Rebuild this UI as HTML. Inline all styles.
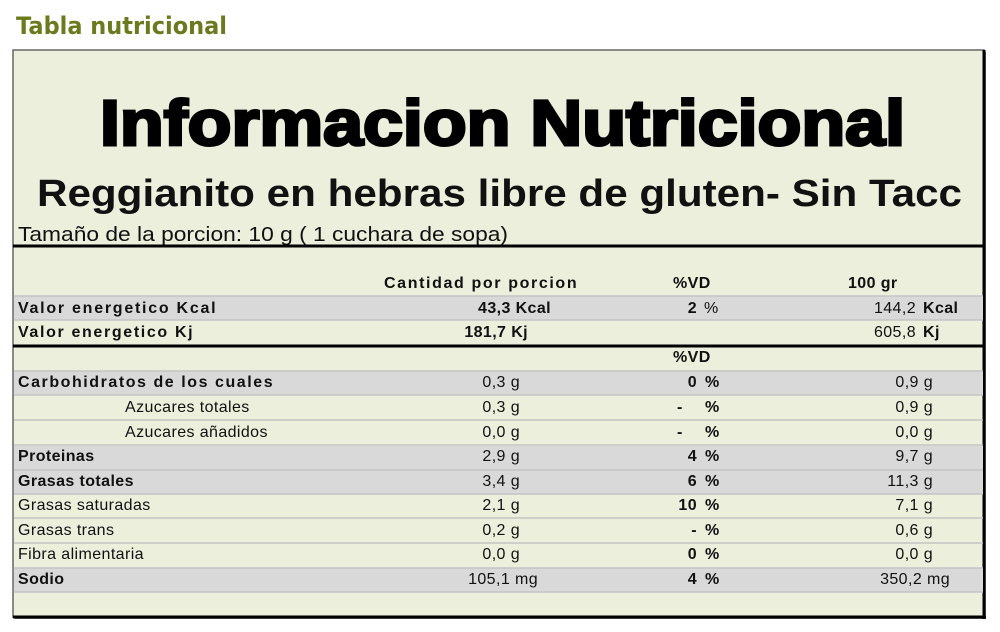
<!DOCTYPE html>
<html><head><meta charset="utf-8"><style>
html,body{margin:0;padding:0;background:#fff;}
svg{display:block;font-family:"Liberation Sans",Arial,sans-serif;}
.t{font-size:16px;letter-spacing:0.4px;fill:#111;}
.b{font-weight:bold;}
</style></head><body>
<svg width="1000" height="632" viewBox="0 0 1000 632">
<text x="16" y="34" font-size="24" font-weight="bold" fill="#6b7a1e" font-family="DejaVu Sans, Liberation Sans, sans-serif" textLength="211" lengthAdjust="spacingAndGlyphs">Tabla nutricional</text>
<rect x="15" y="52" width="971" height="567" fill="#777"/>
<rect x="13" y="50" width="971" height="567" fill="#ebefdc" stroke="#666" stroke-width="1.5"/>
<line x1="984" y1="50" x2="984" y2="619" stroke="#000" stroke-width="3"/>
<line x1="13" y1="617" x2="986" y2="617" stroke="#000" stroke-width="3"/>
<text x="100" y="145" font-size="64" font-weight="bold" fill="#000" stroke="#000" stroke-width="3" textLength="805" lengthAdjust="spacingAndGlyphs">Informacion Nutricional</text>
<text x="37" y="206" font-size="38" font-weight="bold" fill="#111" textLength="925" lengthAdjust="spacingAndGlyphs">Reggianito en hebras libre de gluten- Sin Tacc</text>
<text x="18" y="241" font-size="20" fill="#111" textLength="490" lengthAdjust="spacingAndGlyphs">Tamaño de la porcion: 10 g ( 1 cuchara de sopa)</text>
<line x1="13" y1="246" x2="984" y2="246" stroke="#000" stroke-width="3"/>
<g fill="#d9d9d9">
<rect x="14" y="296" width="969" height="24"/>
<rect x="14" y="371" width="969" height="24"/>
<rect x="14" y="446" width="969" height="24"/>
<rect x="14" y="470" width="969" height="24"/>
<rect x="14" y="568" width="969" height="24"/>
</g>
<g stroke="#c4c4c4" stroke-width="1.5">
<line x1="14" y1="296" x2="983" y2="296"/>
<line x1="14" y1="320" x2="983" y2="320"/>
<line x1="14" y1="371" x2="983" y2="371"/>
<line x1="14" y1="395" x2="983" y2="395"/>
<line x1="14" y1="420" x2="983" y2="420"/>
<line x1="14" y1="445" x2="983" y2="445"/>
<line x1="14" y1="470" x2="983" y2="470"/>
<line x1="14" y1="494" x2="983" y2="494"/>
<line x1="14" y1="518" x2="983" y2="518"/>
<line x1="14" y1="543" x2="983" y2="543"/>
<line x1="14" y1="568" x2="983" y2="568"/>
<line x1="14" y1="592" x2="983" y2="592"/>
</g>
<line x1="13" y1="346" x2="984" y2="346" stroke="#000" stroke-width="3"/>
<g class="t">
<text class="t b" x="384" y="288" textLength="193" lengthAdjust="spacing">Cantidad por porcion</text>
<text class="t b" x="673" y="288">%VD</text>
<text class="t b" x="848" y="288">100 gr</text>

<text class="t b" x="18" y="313" textLength="198" lengthAdjust="spacing">Valor energetico Kcal</text>
<text class="t b" x="551" y="313" text-anchor="end">43,3 Kcal</text>
<text class="t b" x="697" y="313" text-anchor="end">2</text><text class="t" x="704" y="313">%</text>
<text class="t" x="916" y="313" text-anchor="end">144,2</text><text class="t b" x="923" y="313">Kcal</text>

<text class="t b" x="18" y="337" textLength="175" lengthAdjust="spacing">Valor energetico Kj</text>
<text class="t b" x="528" y="337" text-anchor="end">181,7 Kj</text>
<text class="t" x="916" y="337" text-anchor="end">605,8</text><text class="t b" x="923" y="337">Kj</text>

<text class="t b" x="673" y="362">%VD</text>

<text class="t b" x="18" y="387" textLength="255" lengthAdjust="spacing">Carbohidratos de los cuales</text>
<text class="t" x="520" y="387" text-anchor="end">0,3 g</text>
<text class="t b" x="697" y="387" text-anchor="end">0</text><text class="t b" x="705" y="387">%</text>
<text class="t" x="933" y="387" text-anchor="end">0,9 g</text>

<text class="t" x="125" y="412">Azucares totales</text>
<text class="t" x="520" y="412" text-anchor="end">0,3 g</text>
<text class="t b" x="677" y="412">-</text><text class="t b" x="705" y="412">%</text>
<text class="t" x="933" y="412" text-anchor="end">0,9 g</text>

<text class="t" x="125" y="437">Azucares añadidos</text>
<text class="t" x="520" y="437" text-anchor="end">0,0 g</text>
<text class="t b" x="677" y="437">-</text><text class="t b" x="705" y="437">%</text>
<text class="t" x="933" y="437" text-anchor="end">0,0 g</text>

<text class="t b" x="18" y="461">Proteinas</text>
<text class="t" x="520" y="461" text-anchor="end">2,9 g</text>
<text class="t b" x="697" y="461" text-anchor="end">4</text><text class="t b" x="705" y="461">%</text>
<text class="t" x="933" y="461" text-anchor="end">9,7 g</text>

<text class="t b" x="18" y="486">Grasas totales</text>
<text class="t" x="520" y="486" text-anchor="end">3,4 g</text>
<text class="t b" x="697" y="486" text-anchor="end">6</text><text class="t b" x="705" y="486">%</text>
<text class="t" x="933" y="486" text-anchor="end">11,3 g</text>

<text class="t" x="18" y="510">Grasas saturadas</text>
<text class="t" x="520" y="510" text-anchor="end">2,1 g</text>
<text class="t b" x="697" y="510" text-anchor="end">10</text><text class="t b" x="705" y="510">%</text>
<text class="t" x="933" y="510" text-anchor="end">7,1 g</text>

<text class="t" x="18" y="535">Grasas trans</text>
<text class="t" x="520" y="535" text-anchor="end">0,2 g</text>
<text class="t b" x="697" y="535" text-anchor="end">-</text><text class="t b" x="705" y="535">%</text>
<text class="t" x="933" y="535" text-anchor="end">0,6 g</text>

<text class="t" x="18" y="559">Fibra alimentaria</text>
<text class="t" x="520" y="559" text-anchor="end">0,0 g</text>
<text class="t b" x="697" y="559" text-anchor="end">0</text><text class="t b" x="705" y="559">%</text>
<text class="t" x="933" y="559" text-anchor="end">0,0 g</text>

<text class="t b" x="18" y="584">Sodio</text>
<text class="t" x="538" y="584" text-anchor="end">105,1 mg</text>
<text class="t b" x="697" y="584" text-anchor="end">4</text><text class="t b" x="705" y="584">%</text>
<text class="t" x="950" y="584" text-anchor="end">350,2 mg</text>
</g>
</svg>
</body></html>
